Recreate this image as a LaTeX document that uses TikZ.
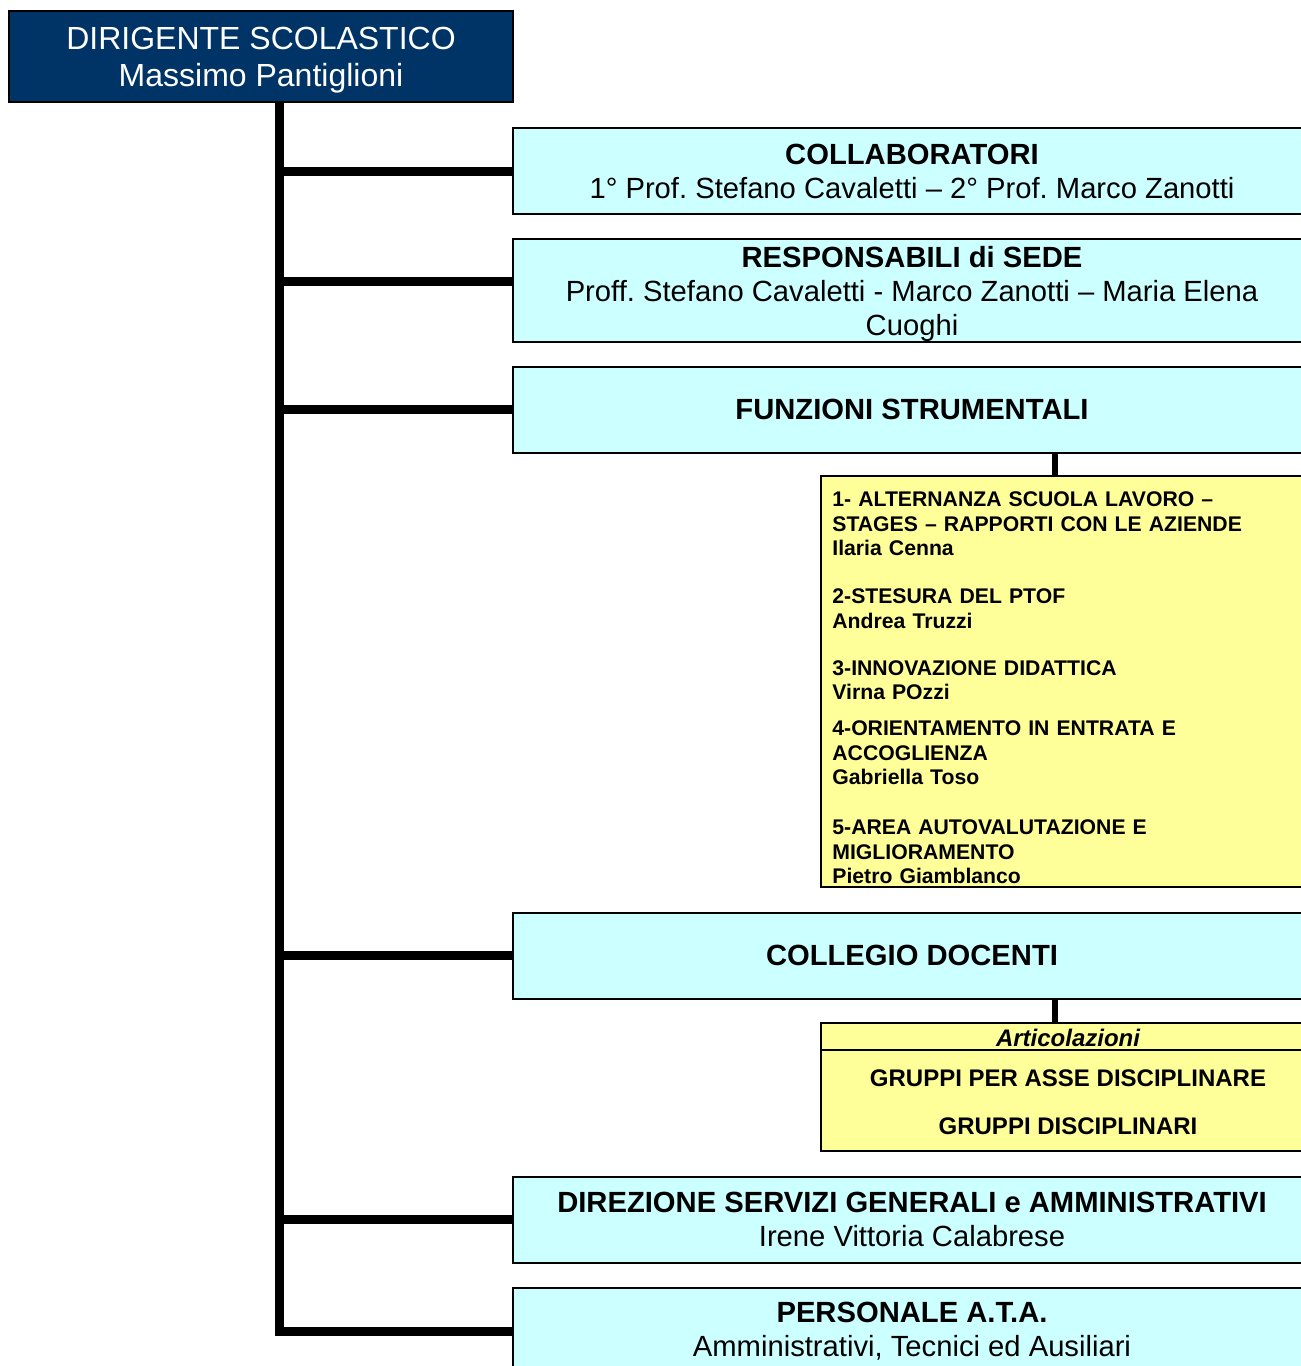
\documentclass[tikz,border=0pt]{standalone}
\usepackage{fontspec}
\setmainfont{Liberation Sans}
\frenchspacing
\definecolor{navy}{HTML}{003366}
\definecolor{cyanbg}{HTML}{CCFFFF}
\definecolor{yellowbg}{HTML}{FFFF99}
\begin{document}
\begin{tikzpicture}[x=0.5pt,y=-0.5pt,
  dbox/.style={draw=black, line width=1pt, fill=navy, inner sep=0pt,
    minimum width=252pt, minimum height=45.5pt},
  dtext/.style={text=white, inner sep=0pt, align=center, font=\fontsize{16}{18.5}\selectfont},
  cbox/.style={draw=black, line width=1pt, fill=cyanbg, inner sep=0pt, align=center,
    minimum width=399pt, minimum height=43pt, font=\fontsize{14.6}{17}\selectfont},
  ctext/.style={inner sep=0pt, align=center, font=\fontsize{14.6}{17}\selectfont},
  ybox/.style={draw=black, line width=0.8pt, fill=yellowbg, inner sep=0pt, minimum width=247pt},
  trunk/.style={line width=4.5pt, line join=miter},
  sub/.style={line width=3pt},
  ytext/.style={font=\bfseries\fontsize{10.6}{12.25}\selectfont},
  atext/.style={font=\bfseries\fontsize{12}{14}\selectfont, inner sep=0pt}]
\useasboundingbox (0,0) rectangle (1301,1366);

\node[dbox] (dir) at (261,56.5) {};
\node[dtext] (dirt) at (261,60) {DIRIGENTE SCOLASTICO\\Massimo Pantiglioni};

\node[cbox] (col) at (912,171) {\textbf{COLLABORATORI}\\1° Prof. Stefano Cavaletti – 2° Prof. Marco Zanotti};
\node[cbox, minimum height=51.5pt] (resp) at (912,290.5) {};
\node[ctext] (respt) at (912,293.5) {\textbf{RESPONSABILI di SEDE}\\Proff. Stefano Cavaletti - Marco Zanotti – Maria Elena\\Cuoghi};
\node[cbox] (fun) at (912,409.5) {\textbf{FUNZIONI STRUMENTALI}};
\node[cbox] (coll) at (912,955.5) {\textbf{COLLEGIO DOCENTI}};
\node[cbox] (dsga) at (912,1219.5) {\textbf{DIREZIONE SERVIZI GENERALI e AMMINISTRATIVI}\\Irene Vittoria Calabrese};
\node[cbox] (pers) at (912,1331) {\textbf{PERSONALE A.T.A.}\\Amministrativi, Tecnici ed Ausiliari};

% funzioni strumentali
\node[ybox, minimum height=205.5pt] (fsbox) at (1068,681.5) {};
\node[ytext, anchor=base west, inner sep=0pt, text width=235pt, align=left] (fstext) at (832,506.5) {1- ALTERNANZA SCUOLA LAVORO –\\
STAGES – RAPPORTI CON LE AZIENDE\\
Ilaria Cenna\\[11.75pt]
2-STESURA DEL PTOF\\
Andrea Truzzi\\[11.25pt]
3-INNOVAZIONE DIDATTICA\\
Virna POzzi\\[5.75pt]
4-ORIENTAMENTO IN ENTRATA E\\
ACCOGLIENZA\\
Gabriella Toso\\[12.75pt]
5-AREA AUTOVALUTAZIONE E\\
MIGLIORAMENTO\\
Pietro Giamblanco};

% articolazioni
\node[ybox, minimum height=64pt] (art) at (1068,1087) {};
\draw[line width=0.8pt] ([yshift=-14pt]art.north west) -- ([yshift=-14pt]art.north east);
\node[atext, font=\bfseries\itshape\fontsize{12}{14}\selectfont] (artt) at (1068,1038) {Articolazioni};
\node[atext] (g1) at (1068,1078) {GRUPPI PER ASSE DISCIPLINARE};
\node[atext] (g2) at (1068,1126) {GRUPPI DISCIPLINARI};

% connectors
\coordinate (tt) at ([xshift=9pt]dir.south);
\coordinate (rw) at ([yshift=4.75pt]resp.west);
\draw[trunk] (tt) -- (tt |- pers.west) -- (pers.west);
\draw[trunk] (tt |- col.west) -- (col.west);
\draw[trunk] (tt |- rw) -- (rw);
\draw[trunk] (tt |- fun.west) -- (fun.west);
\draw[trunk] (tt |- coll.west) -- (coll.west);
\draw[trunk] (tt |- dsga.west) -- (dsga.west);

\draw[sub] ([xshift=-6.5pt]fsbox.north) -- ([xshift=-6.5pt]fsbox.north |- fun.south);
\draw[sub] ([xshift=-6.5pt]art.north) -- ([xshift=-6.5pt]art.north |- coll.south);
\end{tikzpicture}
\end{document}
